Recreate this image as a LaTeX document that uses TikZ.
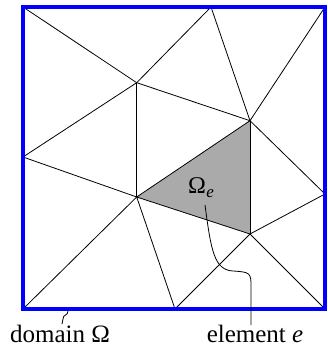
\documentclass[tikz,border=0pt]{standalone}
\usepackage{fontspec}
\setmainfont{Liberation Serif}
\definecolor{elemgray}{RGB}{170,170,170}
\definecolor{domblue}{RGB}{0,0,255}
\begin{document}
\begin{tikzpicture}[x=1pt,y=-1pt,
  mesh/.style={line width=0.8pt,black},
  border/.style={line width=4.5pt,domblue},
  lead/.style={line width=0.8pt,black},
  lbl/.style={inner sep=0pt,font=\fontsize{25}{25}\selectfont,anchor=base}]
\useasboundingbox (0,0) rectangle (327,350);
% vertices
\coordinate (TL) at (23,7);
\coordinate (TR) at (325,7);
\coordinate (BL) at (23,309);
\coordinate (BR) at (325,309);
\coordinate (T1) at (211,7);
\coordinate (A) at (136.7,82.7);
\coordinate (B) at (250,120.7);
\coordinate (L1) at (23,157);
\coordinate (C) at (136.7,197);
\coordinate (D) at (250,234);
\coordinate (R1) at (325,194);
\coordinate (Bt) at (175,309);
% shaded element
\fill[elemgray] (B) -- (C) -- (D) -- cycle;
% mesh edges
\draw[mesh] (TL) -- (A);
\draw[mesh] (T1) -- (A);
\draw[mesh] (T1) -- (B);
\draw[mesh] (TR) -- (B);
\draw[mesh] (A) -- (B);
\draw[mesh] (A) -- (L1);
\draw[mesh] (A) -- (C);
\draw[mesh] (B) -- (C);
\draw[mesh] (B) -- (D);
\draw[mesh] (B) -- (R1);
\draw[mesh] (L1) -- (C);
\draw[mesh] (C) -- (D);
\draw[mesh] (C) -- (BL);
\draw[mesh] (C) -- (Bt);
\draw[mesh] (D) -- (Bt);
\draw[mesh] (D) -- (BR);
\draw[mesh] (D) -- (R1);
% domain border
\draw[border] (TL) rectangle (BR);
% labels
\node[lbl,font=\fontsize{24}{24}\selectfont] (Oe) at (201,193) {Ω\kern0.5pt\raisebox{-0.2em}{\fontsize{17}{17}\selectfont\textit{e}}};
\node[lbl] (dom) at (60,342) {domain Ω};
\node[lbl] (elem) at (255,342) {element \textit{e}};
% leaders
\coordinate (Ls) at (205,205);
\coordinate (Le) at (251,325);
\draw[lead] (Ls) .. controls (211,250) and (214,270) .. (233,271)
  .. controls (250,272) and (251,273) .. (251,286) -- (Le);
\coordinate (Ds) at (68,311);
\coordinate (De) at (62,324);
\draw[lead] (Ds) .. controls (68,316) and (63,314) .. (63,319) -- (De);
\end{tikzpicture}
\end{document}
